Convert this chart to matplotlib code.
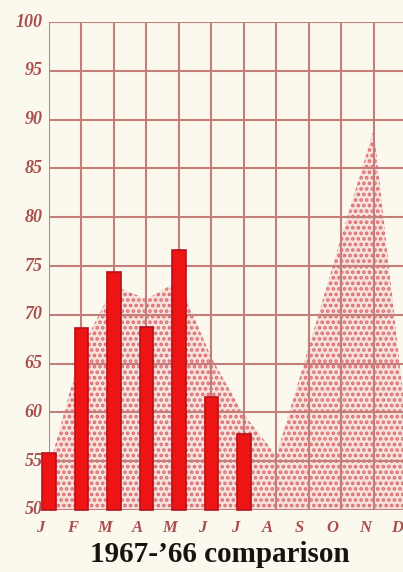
import matplotlib.pyplot as plt
import numpy as np

plt.rcParams['hatch.linewidth'] = 1.8

months = ['J', 'F', 'M', 'A', 'M', 'J', 'J', 'A', 'S', 'O', 'N', 'D']
# 1967 bars (Jan-Jul)
vals_1967 = [55.8, 68.6, 74.4, 68.7, 76.6, 61.6, 57.8]
# 1966 dotted area (full year)
vals_1966 = [54.3, 66.5, 73.0, 71.6, 73.5, 65.6, 59.8, 55.6, 66.7, 78.0, 89.0, 59.0]
yticks = [50, 55, 60, 65, 70, 75, 80, 85, 90, 95, 100]

bg = '#fbf8ee'
grid_col = '#c47e7a'
label_col = '#a9504e'

fig = plt.figure(figsize=(4.03, 5.72), dpi=100, facecolor=bg)
ax = fig.add_axes([0.1216, 0.1084, 0.8784, 0.8531])
ax.set_facecolor(bg)

x = np.arange(len(months))

# 1966 area with halftone dots
ax.fill_between(x, 50, vals_1966, facecolor='#f6e4dc', edgecolor='#dc6c72',
                hatch='...', linewidth=0, zorder=1)

# grid
for v in yticks:
    ax.axhline(v, color=grid_col, lw=1.5, zorder=2)
for i in range(11):
    ax.axvline(i, color=grid_col, lw=1.5, zorder=2)

# 1967 bars
ax.bar(x[:len(vals_1967)], np.array(vals_1967) - 50, bottom=50, width=0.42,
       color='#ee1414', edgecolor='#b8101e', linewidth=1.2, zorder=3, clip_on=False)

ax.set_xlim(0, 10.9)
ax.set_ylim(50, 100)
ax.set_xticks([])
ax.set_yticks([])
for s in ax.spines.values():
    s.set_visible(False)

for v in yticks:
    ax.text(-0.2, v, str(v), ha='right', va='center', fontsize=13,
            family='Liberation Serif', style='italic', weight='bold',
            color=label_col, clip_on=False)

for i, m in enumerate(months):
    ax.text(i - 0.28, 48.2, m, ha='center', va='center', fontsize=12,
            family='Liberation Serif', style='italic', weight='bold',
            color=label_col, clip_on=False)

fig.text(0.546, 0.03, '1967-\u201966 comparison', ha='center', va='center', fontsize=21,
         family='Liberation Serif', weight='bold', color='#1a1210')

fig.savefig('out.png', dpi=100, facecolor=bg)
